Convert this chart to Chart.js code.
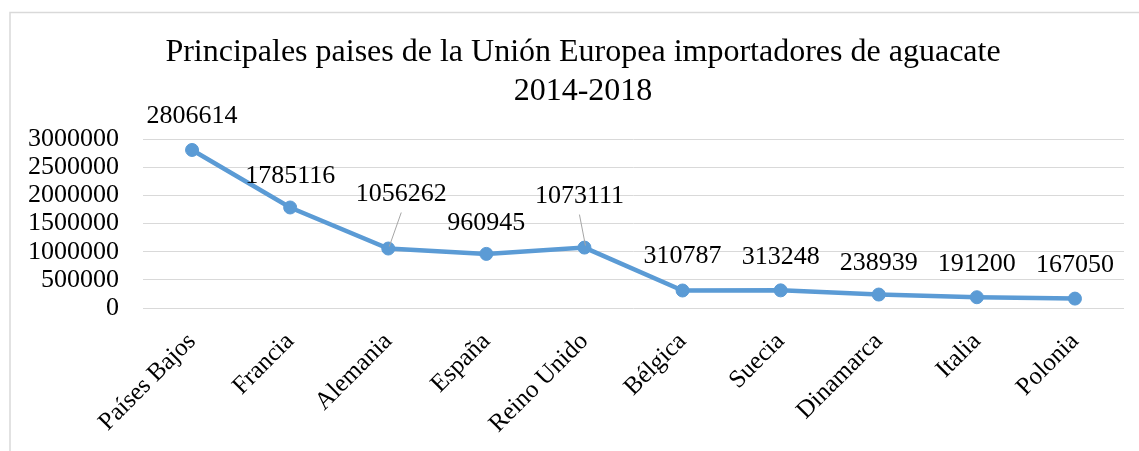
<!DOCTYPE html>
<html><head><meta charset="utf-8">
<script src="https://cdn.jsdelivr.net/npm/chart.js@4.4.1/dist/chart.umd.min.js"></script>
<style>html,body{margin:0;padding:0;background:#fff}#wrap{width:1139px;height:451px;position:relative}</style>
</head><body><div id="wrap"><canvas id="c"></canvas></div>
<script>
const categories = ["Países Bajos","Francia","Alemania","España","Reino Unido","Bélgica","Suecia","Dinamarca","Italia","Polonia"];
const values = [2806614,1785116,1056262,960945,1073111,310787,313248,238939,191200,167050];
const yTicks = [0,500000,1000000,1500000,2000000,2500000,3000000];
const titleLines = ["Principales paises de la Unión Europea importadores de aguacate","2014-2018"];

const SERIF = "'Times New Roman','Liberation Serif','DejaVu Serif',serif";
const LINE_COLOR = '#5B9BD5';
const GRID_COLOR = '#d9d9d9';
// label placement relative to each point (style only)
const labelOffsets = [
  {dx:0,dy:-34},{dx:0,dy:-31},{dx:13,dy:-54,leader:true},{dx:0,dy:-31},{dx:-5,dy:-51,leader:true},
  {dx:0,dy:-34},{dx:0,dy:-33},{dx:0,dy:-31},{dx:0,dy:-33},{dx:0,dy:-33}
];

const framePlugin = {
  id:'frame',
  beforeDraw(chart){
    const ctx = chart.ctx;
    ctx.save();
    ctx.fillStyle='#fff';
    ctx.fillRect(0,0,chart.width,chart.height);
    ctx.strokeStyle=GRID_COLOR;
    ctx.lineWidth=1.5;
    ctx.strokeRect(10,12.5,1200,500);
    ctx.restore();
  }
};

// shift the title box so its centre sits where the reference has it
const titleShiftPlugin = {
  id:'titleShift',
  afterLayout(chart){
    const t = chart.titleBlock;
    if (t){ t.left += 20; }
  }
};

const dataLabelPlugin = {
  id:'dataLabels',
  afterDatasetsDraw(chart){
    const ctx = chart.ctx;
    const meta = chart.getDatasetMeta(0);
    ctx.save();
    ctx.font = '26px ' + SERIF;
    ctx.fillStyle = '#000';
    ctx.textAlign = 'center';
    ctx.textBaseline = 'middle';
    meta.data.forEach((pt, i) => {
      const o = labelOffsets[i] || {dx:0,dy:-33};
      const lx = pt.x + o.dx, ly = pt.y + o.dy;
      if (o.leader){
        ctx.strokeStyle = '#a6a6a6';
        ctx.lineWidth = 1;
        ctx.beginPath();
        ctx.moveTo(lx, ly + 18);
        ctx.lineTo(pt.x + 1, pt.y - 2);
        ctx.stroke();
      }
      ctx.fillText(String(values[i]), lx, ly);
    });
    ctx.restore();
  }
};

new Chart(document.getElementById('c'), {
  type:'line',
  data:{
    labels:categories,
    datasets:[{
      data:values,
      borderColor:LINE_COLOR,
      backgroundColor:LINE_COLOR,
      borderWidth:4.5,
      pointRadius:6.5,
      pointBorderWidth:1,
      pointBackgroundColor:LINE_COLOR,
      pointBorderColor:LINE_COLOR,
      tension:0,
      fill:false
    }]
  },
  options:{
    responsive:true,
    maintainAspectRatio:false,
    animation:false,
    layout:{padding:{left:22,right:15,top:0,bottom:0}},
    plugins:{
      legend:{display:false},
      tooltip:{enabled:false},
      title:{
        display:true,
        text:titleLines,
        color:'#000',
        font:{family:SERIF,size:32,weight:'normal',lineHeight:1.22},
        padding:{top:33,bottom:28}
      }
    },
    scales:{
      x:{
        offset:true,
        grid:{display:false,drawTicks:false},
        border:{display:false},
        ticks:{
          color:'#000',
          font:{family:SERIF,size:25},
          minRotation:45,maxRotation:45,
          padding:19,
          autoSkip:false
        },
        afterFit(s){ s.height = 143; }
      },
      y:{
        min:0,max:3000000,
        grid:{color:GRID_COLOR,lineWidth:1,drawTicks:false},
        border:{display:false},
        afterBuildTicks(s){ s.ticks = yTicks.map(v=>({value:v})); },
        ticks:{
          color:'#000',
          font:{family:SERIF,size:26},
          padding:24,
          autoSkip:false,
          callback:(v)=>String(v)
        },
        afterFit(s){ s.width = 121; }
      }
    }
  },
  plugins:[framePlugin,titleShiftPlugin,dataLabelPlugin]
});
</script>
</body></html>
